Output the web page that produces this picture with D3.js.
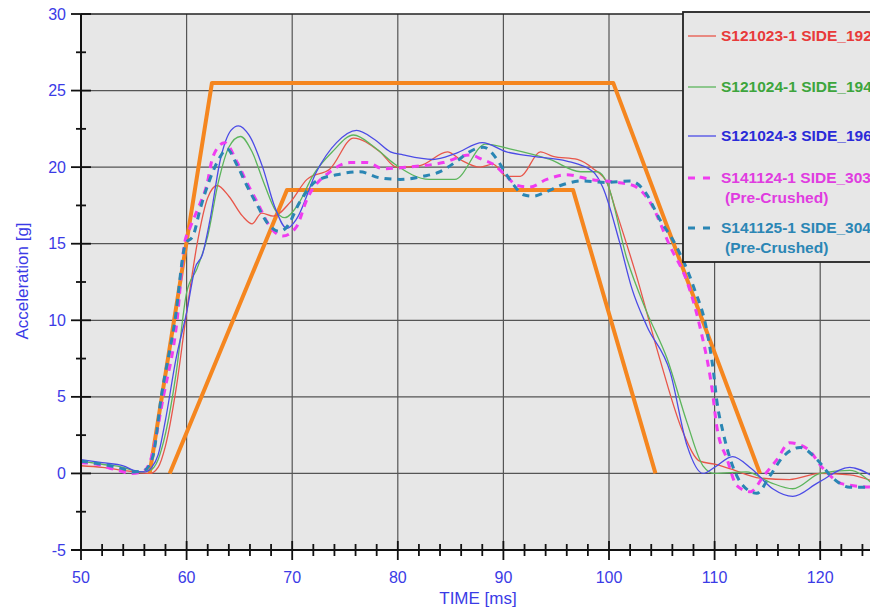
<!DOCTYPE html>
<html>
<head>
<meta charset="utf-8">
<script src="https://cdn.jsdelivr.net/npm/d3@7"></script>
<style>
  body { margin: 0; background: #fff; }
  text { font-family: Arial, "Liberation Sans", sans-serif; }
</style>
</head>
<body>
<div id="chart"></div>
<script>
let w = 870;
let h = 609;
let margin = {top: 14, left: 81, bottom: 59};

// test curves, [time ms, acceleration g]
const s121023_1 = [[50,0.5],[52,0.4],[54,0.2],[55,0.1],[56.5,0],[57.3,0.4],[58,1.8],[59,5.5],[60,10.5],[61,15],[62,18],[62.9,18.8],[64,18.1],[65.3,16.8],[66.2,16.3],[67.1,17],[68.2,16.8],[69.8,17.7],[71.4,19.2],[73.6,19.9],[75.8,21.9],[78.3,21],[79.9,20],[82.1,20.1],[84.7,21],[85.9,20.5],[87.8,20],[89,20.2],[90.3,19.4],[91.6,19.4],[93.5,21],[94.7,20.7],[97,20.5],[98.5,19.9],[99.8,19],[100.5,17.5],[102.6,12.9],[104.8,7.5],[107,2.7],[108.6,0.8],[110,0.6],[111.5,0.3],[114.3,-0.3],[117.1,-0.4],[120,0],[122.8,-0.1],[125,-0.5]];
const s121024_1 = [[50,0.8],[52,0.6],[54,0.4],[55.5,0.1],[56.5,0.2],[57.3,0.9],[58,2.6],[59,6.5],[60,11.8],[61,13.4],[62,15.5],[63,19],[64,21.3],[65.1,22],[66.2,21],[67.3,19],[68.4,17.2],[69.3,16.7],[70.5,17.5],[72,19.5],[73.8,21],[75.8,22.1],[77.8,21.3],[79.7,20.2],[83,19.2],[85.4,19.2],[88.3,21.5],[90.6,21.2],[94.4,20.5],[97.3,19.7],[98.9,19.7],[99.8,19],[101.7,14],[103.6,10.5],[105.5,7.5],[107.4,3.3],[108.9,0.5],[110,0],[113,0.1],[115.3,-0.6],[117.4,-1],[120,0],[122.8,0.2],[125,-0.7]];
const s121024_3 = [[50,0.9],[52,0.7],[54,0.5],[55,0.2],[56,0.1],[56.7,0.4],[57.3,1.2],[58,3.5],[59,7.5],[60,10.5],[60.8,13.4],[61.5,14.3],[62.2,16.5],[63.2,20.5],[64.2,22.4],[64.9,22.7],[65.9,22.1],[67.2,20],[68.3,17.5],[69.5,16],[70.4,16.6],[72.3,19.7],[74.2,21.6],[76.1,22.4],[77.8,21.8],[79.3,21],[80.5,20.8],[83.3,20.5],[85.5,20.9],[88,21.6],[90.3,21],[92.8,20.7],[96,20.4],[98.5,19.7],[99.4,18.7],[101,15.1],[102.2,12],[103.6,9.6],[105.8,6.6],[107.4,1.8],[108.9,0],[110,0.4],[111.7,1.1],[113.5,0.3],[115.5,-1],[117.4,-1.5],[119.8,-0.6],[122.8,0.4],[125,-0.2]];
const s141124_1 = [[50,0.7],[51.5,0.6],[53.2,0.25],[54.8,0],[55.8,0.1],[56.5,0.7],[57.8,5],[59.1,10],[59.8,15],[60.3,16],[61.2,17.5],[61.9,18.8],[62.5,20.7],[63.6,21.6],[64.8,20.3],[65.7,19],[66.7,17.7],[67.9,16.1],[69.1,15.5],[70.4,16.1],[71.4,17.9],[73.6,19.7],[75.5,20.3],[77.1,20.3],[78.6,19.9],[80.9,20],[84.3,20.3],[86.8,20.8],[88,20.5],[89,20.2],[90.3,19.4],[91.3,18.8],[92.5,18.7],[94.1,19.2],[96,19.5],[98.2,19.2],[100.8,19],[102.3,18.8],[103.9,17.7],[105.8,14.8],[107.4,12.5],[108.6,9.6],[109.8,5.3],[110.2,3.1],[111.2,0.9],[112.1,-0.8],[113.4,-1.2],[114.6,-0.2],[115.9,0.9],[117.1,2],[118.8,1.6],[120.3,0.3],[122.2,-0.7],[125,-0.9]];
const s141125_1 = [[50,0.8],[52,0.6],[54,0.3],[55,0.1],[56,0.2],[56.8,1.1],[57.6,5],[58.9,10],[59.9,15],[60.6,15.5],[61.3,17.3],[62.2,19.2],[63.2,20.7],[63.8,21.2],[64.8,20.1],[65.7,18.8],[66.7,17.5],[67.6,16.4],[68.8,15.8],[69.5,16.1],[70.7,17.7],[72.3,19.1],[74.2,19.5],[76.4,19.7],[78.3,19.3],[80.2,19.2],[82.4,19.4],[84,19.7],[85.6,20.4],[86.8,21],[88.1,21.3],[89.4,20.5],[90.3,19.5],[90.9,18.9],[91.9,18.2],[92.8,18.1],[94.1,18.4],[95.4,18.8],[97.5,19.1],[99.8,19],[102,19.1],[103.4,18.4],[104.8,16.6],[106.4,14.8],[108,12.2],[109.3,9.2],[109.9,6.6],[110.2,4.8],[110.8,2.7],[111.7,0.5],[112.7,-0.8],[114,-1.3],[115.2,-0.2],[116.5,1.1],[118.1,1.7],[119.7,0.9],[121.2,-0.3],[122.8,-0.9],[125,-0.9]];

// orange corridor limits
const upperCorridor = [[56.5,0],[62.4,25.5],[100.4,25.5],[114.3,0]];
const lowerCorridor = [[58.4,0],[69.5,18.5],[96.6,18.5],[104.4,0]];

const seriesNames = ['S121023-1 SIDE_192','S121024-1 SIDE_194','S121024-3 SIDE_196','S141124-1 SIDE_303','S141125-1 SIDE_304'];
const seriesNotes = ['','','','(Pre-Crushed)','(Pre-Crushed)'];
const lineColors = ['#e8564a','#5cb55c','#4b4be6','#f03cf0','#2a86b4'];
const textColors = ['#e83a3a','#3da53d','#2b2bd8','#e03ce0','#2b86b5'];
const seriesData = [s121023_1, s121024_1, s121024_3, s141124_1, s141125_1];

const xTicks = [50,60,70,80,90,100,110,120];
const yTicks = [-5,0,5,10,15,20,25,30];

let svg = d3.select('#chart')
    .append('svg')
    .attr('width', w)
    .attr('height', h);

let xScale = d3.scaleLinear()
    .domain([50, 127])
    .range([margin.left, margin.left + 77 * 10.56]);

let yScale = d3.scaleLinear()
    .domain([-5, 30])
    .range([h - margin.bottom, margin.top]);

let plotW = xScale(127) - margin.left;
let plotH = yScale(-5) - yScale(30);

svg.append('defs').append('clipPath')
    .attr('id', 'plotClip')
    .append('rect')
    .attr('x', margin.left)
    .attr('y', margin.top)
    .attr('width', plotW)
    .attr('height', plotH);

svg.append('rect')
    .attr('x', margin.left)
    .attr('y', margin.top)
    .attr('width', plotW)
    .attr('height', plotH)
    .attr('fill', '#e7e7e7');

// grid
svg.append('g')
    .selectAll('line')
    .data(xTicks.slice(1))
    .enter()
    .append('line')
    .attr('x1', d => xScale(d)).attr('x2', d => xScale(d))
    .attr('y1', yScale(30)).attr('y2', yScale(-5))
    .attr('stroke', '#555').attr('stroke-width', 1.2);

svg.append('g')
    .selectAll('line')
    .data(yTicks.slice(1, -1))
    .enter()
    .append('line')
    .attr('x1', margin.left).attr('x2', margin.left + plotW)
    .attr('y1', d => yScale(d)).attr('y2', d => yScale(d))
    .attr('stroke', '#555').attr('stroke-width', 1.2);

svg.append('line')
    .attr('x1', margin.left).attr('x2', margin.left + plotW)
    .attr('y1', margin.top).attr('y2', margin.top)
    .attr('stroke', '#222').attr('stroke-width', 1.5);

let line = d3.line()
    .x(d => xScale(d[0]))
    .y(d => yScale(d[1]));

let smooth = d3.line()
    .x(d => xScale(d[0]))
    .y(d => yScale(d[1]))
    .curve(d3.curveMonotoneX);

let plot = svg.append('g').attr('clip-path', 'url(#plotClip)');

[upperCorridor, lowerCorridor].forEach(c => {
    plot.append('path')
        .datum(c)
        .attr('d', line)
        .attr('fill', 'none')
        .attr('stroke', '#f5861f')
        .attr('stroke-width', 4)
        .attr('stroke-linejoin', 'round');
});

seriesData.forEach((s, i) => {
    let dashed = i >= 3;
    plot.append('path')
        .datum(s)
        .attr('d', smooth)
        .attr('fill', 'none')
        .attr('stroke', lineColors[i])
        .attr('stroke-width', dashed ? 3 : 1.3)
        .attr('stroke-dasharray', dashed ? '7,6' : null);
});

// axes
let yAxisG = svg.append('g');
yAxisG.append('line')
    .attr('x1', margin.left).attr('x2', margin.left)
    .attr('y1', margin.top).attr('y2', yScale(-5))
    .attr('stroke', '#111').attr('stroke-width', 2);
yAxisG.selectAll('.minor')
    .data(d3.range(-2.5, 30, 5))
    .enter()
    .append('line')
    .attr('x1', margin.left - 5).attr('x2', margin.left + 5)
    .attr('y1', d => yScale(d)).attr('y2', d => yScale(d))
    .attr('stroke', '#111').attr('stroke-width', 1.8);
yAxisG.selectAll('.major')
    .data(yTicks)
    .enter()
    .append('line')
    .attr('x1', margin.left - 10).attr('x2', margin.left + 10)
    .attr('y1', d => yScale(d)).attr('y2', d => yScale(d))
    .attr('stroke', '#111').attr('stroke-width', 1.8);
yAxisG.selectAll('text')
    .data(yTicks)
    .enter()
    .append('text')
    .attr('x', margin.left - 15)
    .attr('y', d => yScale(d))
    .attr('dy', '0.35em')
    .attr('text-anchor', 'end')
    .attr('fill', '#3b3be6')
    .style('font-size', '16px')
    .text(d => d);

let xAxisG = svg.append('g');
xAxisG.append('line')
    .attr('x1', margin.left - 10).attr('x2', w)
    .attr('y1', yScale(-5)).attr('y2', yScale(-5))
    .attr('stroke', '#111').attr('stroke-width', 2);
xAxisG.selectAll('.minor')
    .data(d3.range(52, 127, 2).filter(d => d % 10 !== 0))
    .enter()
    .append('line')
    .attr('x1', d => xScale(d)).attr('x2', d => xScale(d))
    .attr('y1', yScale(-5) - 6).attr('y2', yScale(-5) + 6)
    .attr('stroke', '#111').attr('stroke-width', 1.8);
xAxisG.selectAll('.major')
    .data(xTicks)
    .enter()
    .append('line')
    .attr('x1', d => xScale(d)).attr('x2', d => xScale(d))
    .attr('y1', yScale(-5) - 9).attr('y2', yScale(-5) + 10)
    .attr('stroke', '#111').attr('stroke-width', 1.8);
xAxisG.selectAll('text')
    .data(xTicks)
    .enter()
    .append('text')
    .attr('x', d => xScale(d))
    .attr('y', yScale(-5) + 27)
    .attr('dy', '0.35em')
    .attr('text-anchor', 'middle')
    .attr('fill', '#3b3be6')
    .style('font-size', '16px')
    .text(d => d);

svg.append('text')
    .attr('x', 478)
    .attr('y', 604)
    .attr('text-anchor', 'middle')
    .attr('fill', '#3b3be6')
    .style('font-size', '17px')
    .text('TIME [ms]');

svg.append('text')
    .attr('transform', 'translate(28,281) rotate(-90)')
    .attr('text-anchor', 'middle')
    .attr('fill', '#3b3be6')
    .style('font-size', '17px')
    .text('Acceleration [g]');

// legend
let legend = svg.append('g').attr('transform', 'translate(683,12)');
legend.append('rect')
    .attr('width', 200)
    .attr('height', 250)
    .attr('fill', '#e7e7e7')
    .attr('stroke', '#222')
    .attr('stroke-width', 1.8);

const legendY = [24, 75, 124, 166, 216];
seriesNames.forEach((name, i) => {
    let dashed = i >= 3;
    legend.append('line')
        .attr('x1', 5).attr('x2', 33)
        .attr('y1', legendY[i]).attr('y2', legendY[i])
        .attr('stroke', lineColors[i])
        .attr('stroke-width', dashed ? 3 : 1.3)
        .attr('stroke-dasharray', dashed ? '7,8' : null);
    legend.append('text')
        .attr('x', 38)
        .attr('y', legendY[i])
        .attr('dy', '0.35em')
        .attr('fill', textColors[i])
        .style('font-size', '15.5px')
        .style('font-weight', 'bold')
        .text(name);
    if (seriesNotes[i]) {
        legend.append('text')
            .attr('x', 42)
            .attr('y', legendY[i] + 20)
            .attr('dy', '0.35em')
            .attr('fill', textColors[i])
            .style('font-size', '15.5px')
            .style('font-weight', 'bold')
            .text(seriesNotes[i]);
    }
});
</script>
</body>
</html>
